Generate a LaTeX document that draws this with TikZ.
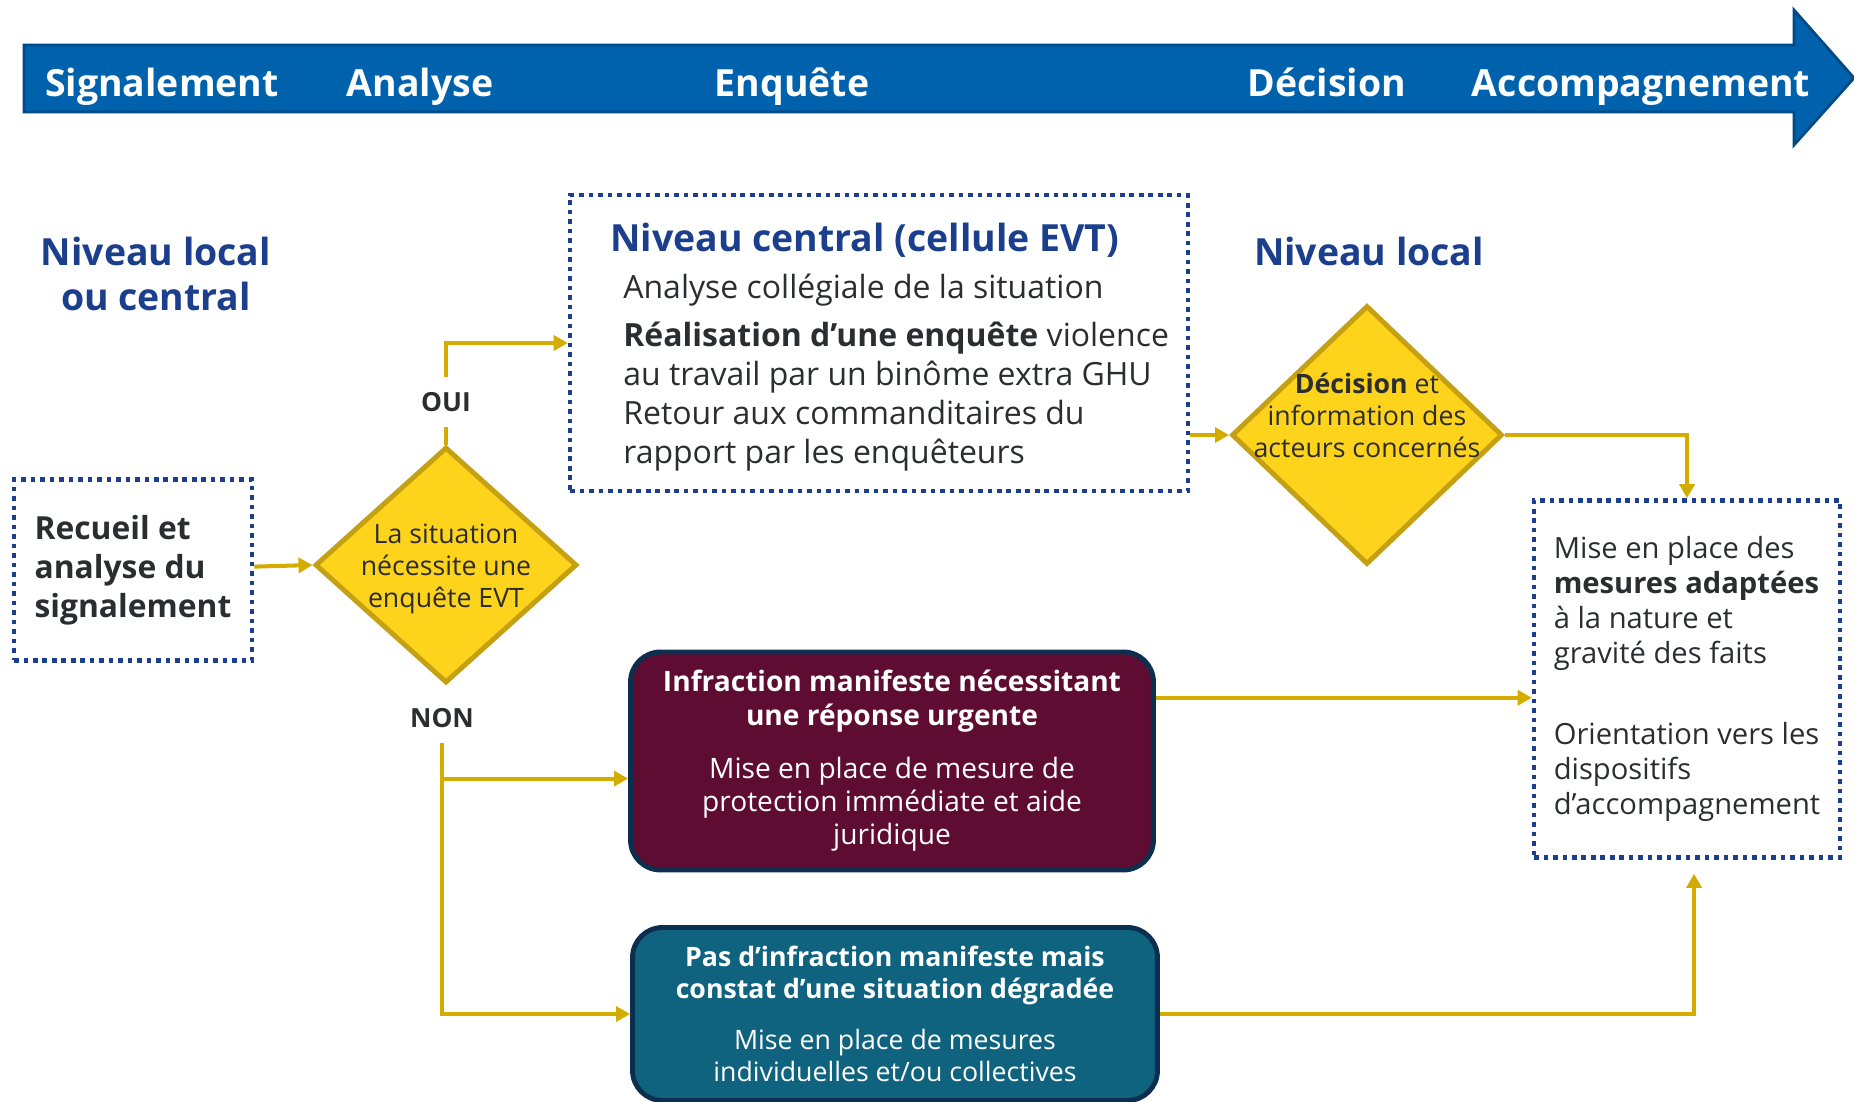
\documentclass[tikz,border=0pt]{standalone}
\usepackage{fontspec}
\setmainfont{Open Sans}
\usetikzlibrary{positioning,shapes.geometric,arrows.meta}

\definecolor{phaseblue}{HTML}{0062AD}
\definecolor{phaseedge}{HTML}{004A86}
\definecolor{evtblue}{HTML}{1B3F8D}
\definecolor{flowgold}{HTML}{D4AC00}
\definecolor{diamfill}{HTML}{FDD31C}
\definecolor{diamedge}{HTML}{C4A012}
\definecolor{urgred}{HTML}{5E0C31}
\definecolor{degteal}{HTML}{10637F}
\definecolor{boxedge}{HTML}{0C2F50}
\definecolor{txtdark}{HTML}{2B2D30}

\tikzset{
  flow/.style={draw=flowgold, line width=2.3pt, -{Triangle[length=8pt,width=8.5pt]}},
  flowline/.style={draw=flowgold, line width=2.3pt},
  dotbox/.style={draw=evtblue, line width=2.6pt, dash pattern=on 2.6pt off 2.8pt, inner sep=0pt},
  decision/.style={diamond, draw=diamedge, fill=diamfill, line width=2.8pt, inner sep=0pt},
  decisiontxt/.style={align=center, text=txtdark, font=\fontsize{15.2}{18.2}\selectfont},
  outcome/.style={rounded corners=17pt, draw=boxedge, line width=2.8pt, text=white, align=center, inner sep=0pt},
  phase/.style={text=white, anchor=base, font=\bfseries\fontsize{21.3}{25}\selectfont},
  level/.style={text=evtblue, font=\bfseries\fontsize{21.3}{25.6}\selectfont, align=center},
  answer/.style={text=txtdark, font=\bfseries\fontsize{15}{16}\selectfont, inner xsep=2pt},
}

\begin{document}
\begin{tikzpicture}[x=0.02cm, y=-0.02cm]
\useasboundingbox (0,0) rectangle (1854,1102);
% Phase arrow
\draw[phaseedge, fill=phaseblue, line width=1.6pt]
  (24,45) -- (1794,45) -- (1794,10) -- (1854,78) -- (1794,145) -- (1794,112) -- (24,112) -- cycle;
\node[phase] (signal) at (162,96) {Signalement};
\node[phase] (analyse) at (420,96) {Analyse};
\node[phase] (enquete) at (792,96) {Enquête};
\node[phase] (decision) at (1327,96) {Décision};
\node[phase] (accomp) at (1641,96) {Accompagnement};

% Levels
\node[level] (lvlleft) at (156,274) {Niveau local\\ou central};
\node[level] (lvlright) at (1369,251) {Niveau local};

% Boxes
\node[dotbox, minimum width=4.76cm, minimum height=3.62cm, align=left, text=txtdark,
  font=\bfseries\fontsize{18.1}{22.2}\selectfont] (recueil) at (133,570)
  {Recueil et\\analyse du\\signalement};

\node[decision, minimum width=5.24cm, minimum height=4.72cm] (situation) at (446,565) {};
\node[decisiontxt] (situationtxt) at (446,569) {La situation\\nécessite une\\enquête EVT};

\node[dotbox, minimum width=12.36cm, minimum height=5.92cm] (central) at (879,343) {};
\node[anchor=west, inner sep=0pt, align=left, text=txtdark, font=\fontsize{18.2}{22.2}\selectfont]
  (centraltxt) at (623,347)
  {\hspace*{-7.4pt}\textcolor{evtblue}{\bfseries\fontsize{21.3}{24}\selectfont Niveau central (cellule EVT)}\\[5pt]
   Analyse collégiale de la situation\\[5pt]
   \textbf{Réalisation d’une enquête} violence\\
   au travail par un binôme extra GHU\\
   Retour aux commanditaires du\\
   rapport par les enquêteurs};

\node[decision, minimum width=5.42cm, minimum height=5.18cm] (infos) at (1367,435) {};
\node[decisiontxt] (infostxt) at (1367,415) {\textbf{Décision} et\\information des\\acteurs concernés};

\node[dotbox, minimum width=6.12cm, minimum height=7.14cm, align=left, text=txtdark,
  font=\fontsize{16.6}{20}\selectfont] (mesures) at (1687,679)
  {Mise en place des\\\textbf{mesures adaptées}\\à la nature et\\gravité des faits\\[26pt]
   Orientation vers les\\dispositifs\\d’accompagnement};

\node[outcome, fill=urgred, minimum width=10.46cm, minimum height=4.36cm,
  font=\fontsize{16}{19}\selectfont] (urgent) at (892,761)
  {\textbf{Infraction manifeste nécessitant}\\\textbf{une réponse urgente}\\[11pt]
   Mise en place de mesure de\\protection immédiate et aide\\juridique};

\node[outcome, fill=degteal, minimum width=10.5cm, minimum height=3.46cm,
  font=\fontsize{15.2}{18}\selectfont] (degrade) at (895,1014)
  {\textbf{Pas d’infraction manifeste mais}\\\textbf{constat d’une situation dégradée}\\[11pt]
   Mise en place de mesures\\individuelles et/ou collectives};

% Answers
\node[answer, minimum height=0.98cm] (oui) at (446,402) {OUI};
\node[answer, minimum height=1.0cm] (non) at (442,718) {NON};

% Connectors
\draw[flow] (recueil) -- (situation.west);
\draw[flowline] (situation.north) -- (oui.south);
\draw[flow] (oui.north) |- (central.west);
\coordinate (urgentin) at ([yshift=-10pt]urgent.west);
\draw[flow] (non.south) |- (degrade.west);
\draw[flow] (non.south |- urgentin) -- (urgentin);
\draw[flow] (central.east |- infos.west) -- (infos.west);
\draw[flow] (infos.east) -| (mesures.north);
\coordinate (urgentout) at ([yshift=36pt]urgent.east);
\draw[flow] (urgentout) -- (urgentout -| mesures.west);
\coordinate (mesuresin) at ([xshift=4pt,yshift=-8pt]mesures.south);
\draw[flow] (degrade.east) -| (mesuresin);
\end{tikzpicture}
\end{document}
